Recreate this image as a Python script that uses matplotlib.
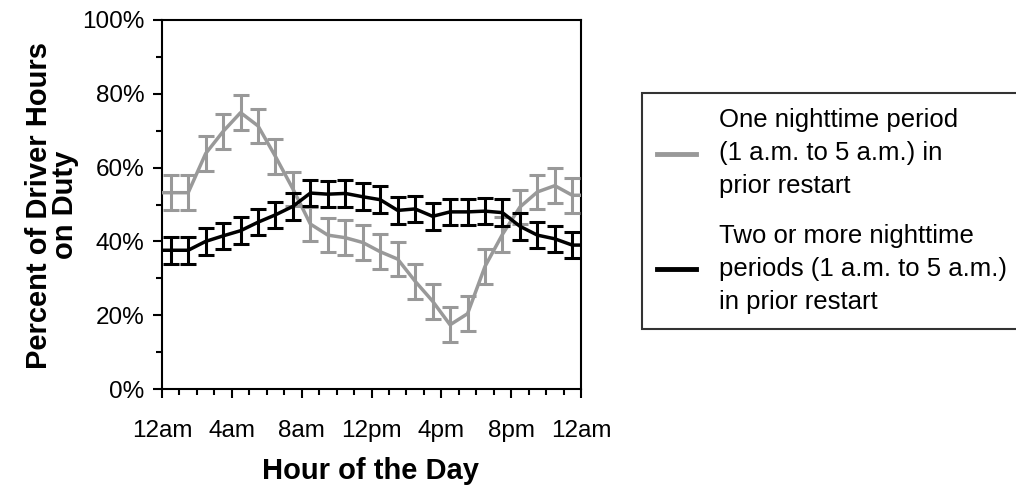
import numpy as np
import matplotlib
matplotlib.use('Agg')
import matplotlib.pyplot as plt
from matplotlib.ticker import MultipleLocator, FuncFormatter

plt.rcParams['font.family'] = ['Liberation Sans', 'DejaVu Sans']

# hour-of-day bins (values plotted at bin centres)
hours = np.arange(24) + 0.5

# percent of driver hours on duty
one_night = [53.2, 53.2, 63.8, 69.8, 74.9, 71.3, 63.0, 54.2, 44.7, 41.7, 41.0, 39.7,
             37.2, 35.2, 29.2, 23.8, 17.4, 20.4, 33.2, 41.9, 49.3, 53.4, 55.1, 52.5]
one_night_err = [4.7] * 24

two_night = [37.6, 37.6, 40.0, 41.5, 42.9, 45.2, 47.2, 49.5, 53.1, 52.8, 53.0, 52.1,
             51.3, 48.4, 48.8, 46.8, 48.0, 48.0, 48.2, 47.8, 44.1, 41.7, 40.7, 39.0]
two_night_err = [3.6] * 24

xtick_labels = ['12am', '4am', '8am', '12pm', '4pm', '8pm', '12am']
series_labels = ['One nighttime period\n(1 a.m. to 5 a.m.) in\nprior restart',
                 'Two or more nighttime\nperiods (1 a.m. to 5 a.m.)\nin prior restart']

GRAY = '#999999'
BLACK = '#000000'

fig = plt.figure(figsize=(10.16, 4.91), dpi=100)
ax = fig.add_axes([162 / 1016, 1 - 389 / 491, 419 / 1016, 369 / 491])

handles = []
for vals, err, color in [(one_night, one_night_err, GRAY),
                         (two_night, two_night_err, BLACK)]:
    vals = np.asarray(vals)
    # line runs to the axis edges at the end-bin values
    xs = np.r_[0, hours, 24]
    ys = np.r_[vals[0], vals, vals[-1]]
    ln, = ax.plot(xs, ys, color=color, lw=2.5, solid_joinstyle='round', zorder=3)
    ax.errorbar(hours, vals, yerr=err, fmt='none', ecolor=color,
                elinewidth=2.2, capsize=5.5, capthick=2.2, zorder=3)
    handles.append(ln)

ax.set_xlim(0, 24)
ax.set_ylim(0, 100)
ax.set_xticks(np.arange(0, 25, 4))
ax.set_xticklabels(xtick_labels)
ax.xaxis.set_minor_locator(MultipleLocator(1))
ax.yaxis.set_major_locator(MultipleLocator(20))
ax.yaxis.set_minor_locator(MultipleLocator(10))
ax.yaxis.set_major_formatter(FuncFormatter(lambda v, p: f'{v:.0f}%'))

for s in ax.spines.values():
    s.set_linewidth(1.5)
ax.tick_params(which='major', direction='out', length=6.5, width=1.5,
               labelsize=17.5, colors='black')
ax.tick_params(which='minor', direction='out', length=4.5, width=1.5)
ax.tick_params(axis='x', which='major', pad=16)
ax.tick_params(axis='y', which='major', pad=6)

fig.text(52 / 1016, 1 - 205 / 491, 'Percent of Driver Hours\non Duty',
         rotation=90, ha='center', va='center', fontsize=21,
         fontweight='bold', linespacing=0.95)
fig.text(371 / 1016, 1 - 471 / 491, 'Hour of the Day', ha='center',
         va='center', fontsize=21, fontweight='bold')

leg_top = 1 - 93 / 491
leg = fig.legend(handles, series_labels, loc='upper left',
                 bbox_to_anchor=(642 / 1016, leg_top - 0.1, 400 / 1016, 0.1),
                 mode='expand', fontsize=18.5, frameon=True, fancybox=False,
                 handlelength=1.5, handletextpad=0.9, borderpad=0.6,
                 labelspacing=1.0, borderaxespad=0)
leg.get_frame().set_edgecolor('black')
leg.get_frame().set_linewidth(1.5)
for t in leg.get_texts():
    t.set_linespacing(1.47)
for h in leg.get_lines():
    h.set_linewidth(3.5)

fig.savefig('out.png', dpi=100)
